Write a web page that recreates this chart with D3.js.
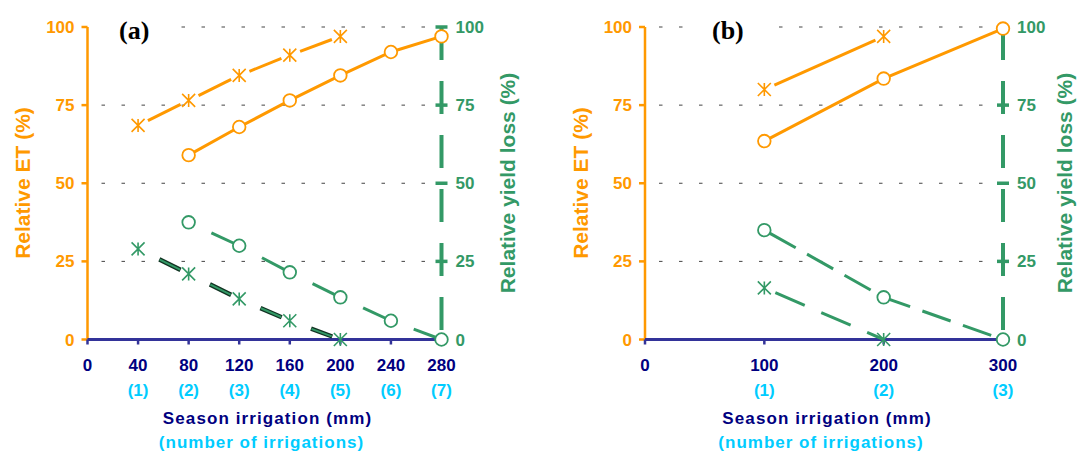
<!DOCTYPE html>
<html>
<head>
<meta charset="utf-8">
<script src="https://cdn.jsdelivr.net/npm/d3@7"></script>
<style>
  body { margin: 0; background: #fff; }
  svg { display: block; font-family: "Liberation Sans", Arial, sans-serif; font-weight: bold; }
</style>
</head>
<body>
<svg width="1079" height="453"></svg>
<script>
// ---- data ----
// panel (a): one irrigation = 40 mm
const starIrrA = [40, 80, 120, 160, 200];
const circleIrrA = [80, 120, 160, 200, 240, 280];
const etStarA = [68.5, 76.5, 84.5, 91, 97];
const etCircleA = [59, 68, 76.5, 84.5, 92, 97];
const lossStarA = [29, 21, 13, 6, 0];
const lossCircleA = [37.5, 30, 21.5, 13.5, 6, 0];
const xTicksA = [0, 40, 80, 120, 160, 200, 240, 280];
const countsA = ["(1)", "(2)", "(3)", "(4)", "(5)", "(6)", "(7)"];

// panel (b): one irrigation = 100 mm
const starIrrB = [100, 200];
const circleIrrB = [100, 200, 300];
const etStarB = [80, 97];
const etCircleB = [63.5, 83.5, 99.5];
const lossStarB = [16.5, 0];
const lossCircleB = [35, 13.5, 0];
const xTicksB = [0, 100, 200, 300];
const countsB = ["(1)", "(2)", "(3)"];

const yTicks = [0, 25, 50, 75, 100];

const ORANGE = "#FF9900", GREEN = "#339966", NAVY = "#000080", AXIS = "#333399", CYAN = "#00CCFF";

const svg = d3.select("svg");

// asterisk marker: vertical bar + X
function starPath(s) {
  return `M0,${-s}L0,${s}M${-s},${-s}L${s},${s}M${-s},${s}L${s},${-s}`;
}

// piece of the segment p0->p1 between fractions t0 and t1
function piece(p0, p1, t0, t1) {
  return [
    [p0[0] + (p1[0] - p0[0]) * t0, p0[1] + (p1[1] - p0[1]) * t0],
    [p0[0] + (p1[0] - p0[0]) * t1, p0[1] + (p1[1] - p0[1]) * t1]
  ];
}

function drawPanel(o) {
  const g = svg.append("g");
  const x = d3.scaleLinear().domain([0, o.xMax]).range([o.left, o.right]);
  const y = d3.scaleLinear().domain([0, 100]).range([339.5, 27]);
  const line = d3.line();

  // dotted gridlines
  g.selectAll(".grid").data(yTicks.filter(d => d > 0)).join("line")
    .attr("x1", o.left + 14).attr("x2", o.right - 10)
    .attr("y1", y).attr("y2", y)
    .attr("stroke", "#444").attr("stroke-width", 1)
    .attr("stroke-dasharray", "3.5,16.5");

  // panel letter on a white patch
  g.append("rect").attr("x", o.boxX).attr("y", 12).attr("width", o.boxW).attr("height", 34).attr("fill", "#fff");
  g.append("text").attr("x", o.labelX).attr("y", 39)
    .attr("font-family", "'Liberation Serif', 'Times New Roman', serif")
    .attr("font-size", 26).attr("font-weight", "bold").attr("fill", "#000")
    .text(o.letter);

  // left axis (relative ET)
  g.append("line").attr("x1", o.left).attr("x2", o.left).attr("y1", y(100)).attr("y2", y(0))
    .attr("stroke", ORANGE).attr("stroke-width", 2.5);
  g.selectAll(".ltick").data(yTicks).join("line")
    .attr("x1", o.left - 6).attr("x2", o.left).attr("y1", y).attr("y2", y)
    .attr("stroke", ORANGE).attr("stroke-width", 2.5);
  g.selectAll(".llab").data(yTicks).join("text")
    .attr("x", o.left - 13).attr("y", d => y(d)).attr("dy", "0.36em")
    .attr("text-anchor", "end").attr("font-size", 17).attr("fill", ORANGE)
    .text(d => d);
  g.append("text")
    .attr("transform", `translate(${o.left - 65},183) rotate(-90)`)
    .attr("text-anchor", "middle").attr("dy", "0.36em")
    .attr("font-size", 21).attr("fill", ORANGE).text("Relative ET (%)");

  // right axis (relative yield loss), thick dashed
  g.append("line").attr("x1", o.right).attr("x2", o.right).attr("y1", y(100)).attr("y2", y(0))
    .attr("stroke", GREEN).attr("stroke-width", 4).attr("stroke-dasharray", "33,21");
  g.selectAll(".rtick").data(yTicks.filter(d => d > 0)).join("line")
    .attr("x1", o.right - 6).attr("x2", o.right + 6).attr("y1", y).attr("y2", y)
    .attr("stroke", GREEN).attr("stroke-width", 3.5);
  g.selectAll(".rlab").data(yTicks).join("text")
    .attr("x", o.right + 14).attr("y", d => y(d)).attr("dy", "0.36em")
    .attr("font-size", 17).attr("fill", GREEN)
    .text(d => d);
  g.append("text")
    .attr("transform", `translate(${o.right + o.rTitle},183) rotate(-90)`)
    .attr("text-anchor", "middle").attr("dy", "0.36em")
    .attr("font-size", 21).attr("fill", GREEN).text("Relative yield loss (%)");

  // bottom axis
  g.append("line").attr("x1", o.left).attr("x2", o.right).attr("y1", y(0)).attr("y2", y(0))
    .attr("stroke", AXIS).attr("stroke-width", 3);
  g.selectAll(".xtick").data(o.xTicks).join("line")
    .attr("x1", x).attr("x2", x).attr("y1", y(0)).attr("y2", y(0) + 5)
    .attr("stroke", AXIS).attr("stroke-width", 2.5);
  g.selectAll(".xlab").data(o.xTicks).join("text")
    .attr("x", x).attr("y", 371).attr("text-anchor", "middle")
    .attr("font-size", 17).attr("fill", NAVY).text(d => d);
  g.selectAll(".nlab").data(o.counts).join("text")
    .attr("x", (d, i) => x(o.xTicks[i + 1])).attr("y", 396).attr("text-anchor", "middle")
    .attr("font-size", 17).attr("fill", CYAN).text(d => d);
  const mid = (o.left + o.right) / 2;
  g.append("text").attr("x", mid + 3).attr("y", 424).attr("text-anchor", "middle")
    .attr("font-size", 17).attr("letter-spacing", 1.1).attr("fill", NAVY)
    .text("Season irrigation (mm)");
  g.append("text").attr("x", mid - 3).attr("y", 448).attr("text-anchor", "middle")
    .attr("font-size", 17).attr("letter-spacing", 1).attr("fill", CYAN)
    .text("(number of irrigations)");

  const pts = (xs, ys) => xs.map((d, i) => [x(d), y(ys[i])]);
  const etStar = pts(o.starIrr, o.etStar);
  const etCircle = pts(o.circleIrr, o.etCircle);
  const lossStar = pts(o.starIrr, o.lossStar);
  const lossCircle = pts(o.circleIrr, o.lossCircle);
  const pairs = p => d3.pairs(p);

  // green yield-loss lines
  if (o.segmented) {
    g.selectAll(".lsS").data(pairs(lossStar)).join("path")
      .attr("d", ([a, b]) => line(piece(a, b, 0.42, 0.84)))
      .attr("stroke", "#113322").attr("stroke-width", 4.5).attr("fill", "none");
    g.selectAll(".lsS2").data(pairs(lossStar)).join("path")
      .attr("d", ([a, b]) => line(piece(a, b, 0.43, 0.83)))
      .attr("stroke", GREEN).attr("stroke-width", 2).attr("fill", "none");
    g.selectAll(".lsC").data(pairs(lossCircle)).join("path")
      .attr("d", ([a, b]) => line(piece(a, b, 0.45, 1)))
      .attr("stroke", GREEN).attr("stroke-width", 3).attr("fill", "none");
  } else {
    g.append("path").attr("d", line(lossStar))
      .attr("stroke", GREEN).attr("stroke-width", 3).attr("fill", "none")
      .attr("stroke-dasharray", "32,18").attr("stroke-dashoffset", -12);
    g.append("path").attr("d", line(lossCircle))
      .attr("stroke", GREEN).attr("stroke-width", 3).attr("fill", "none")
      .attr("stroke-dasharray", "30,13").attr("stroke-dashoffset", -6);
  }

  // orange ET lines
  g.selectAll(".etS").data(pairs(etStar)).join("path")
    .attr("d", ([a, b]) => {
      const L = Math.hypot(b[0] - a[0], b[1] - a[1]);
      return line(piece(a, b, 11 / L, 1 - 9 / L));
    })
    .attr("stroke", ORANGE).attr("stroke-width", 3).attr("fill", "none");
  g.append("path").attr("d", line(etCircle))
    .attr("stroke", ORANGE).attr("stroke-width", 3).attr("fill", "none");

  // markers
  g.selectAll(".mS").data(etStar.map(p => [p, ORANGE]).concat(lossStar.map(p => [p, GREEN]))).join("path")
    .attr("transform", ([p]) => `translate(${p[0]},${p[1]})`)
    .attr("d", starPath(6.5))
    .attr("stroke", ([, c]) => c).attr("stroke-width", 1.6).attr("fill", "none");
  g.selectAll(".mC").data(etCircle.map(p => [p, ORANGE]).concat(lossCircle.map(p => [p, GREEN]))).join("circle")
    .attr("cx", ([p]) => p[0]).attr("cy", ([p]) => p[1]).attr("r", 6.3)
    .attr("fill", "#fff").attr("stroke", ([, c]) => c).attr("stroke-width", 1.8);
}

drawPanel({
  left: 87.5, right: 441.5, xMax: 280, letter: "(a)", labelX: 119, boxX: 100, boxW: 78, rTitle: 66,
  xTicks: xTicksA, counts: countsA, starIrr: starIrrA, circleIrr: circleIrrA,
  etStar: etStarA, etCircle: etCircleA, lossStar: lossStarA, lossCircle: lossCircleA,
  segmented: true
});
drawPanel({
  left: 645, right: 1003, xMax: 300, letter: "(b)", labelX: 712, boxX: 692, boxW: 84, rTitle: 61,
  xTicks: xTicksB, counts: countsB, starIrr: starIrrB, circleIrr: circleIrrB,
  etStar: etStarB, etCircle: etCircleB, lossStar: lossStarB, lossCircle: lossCircleB,
  segmented: false
});
</script>
</body>
</html>
